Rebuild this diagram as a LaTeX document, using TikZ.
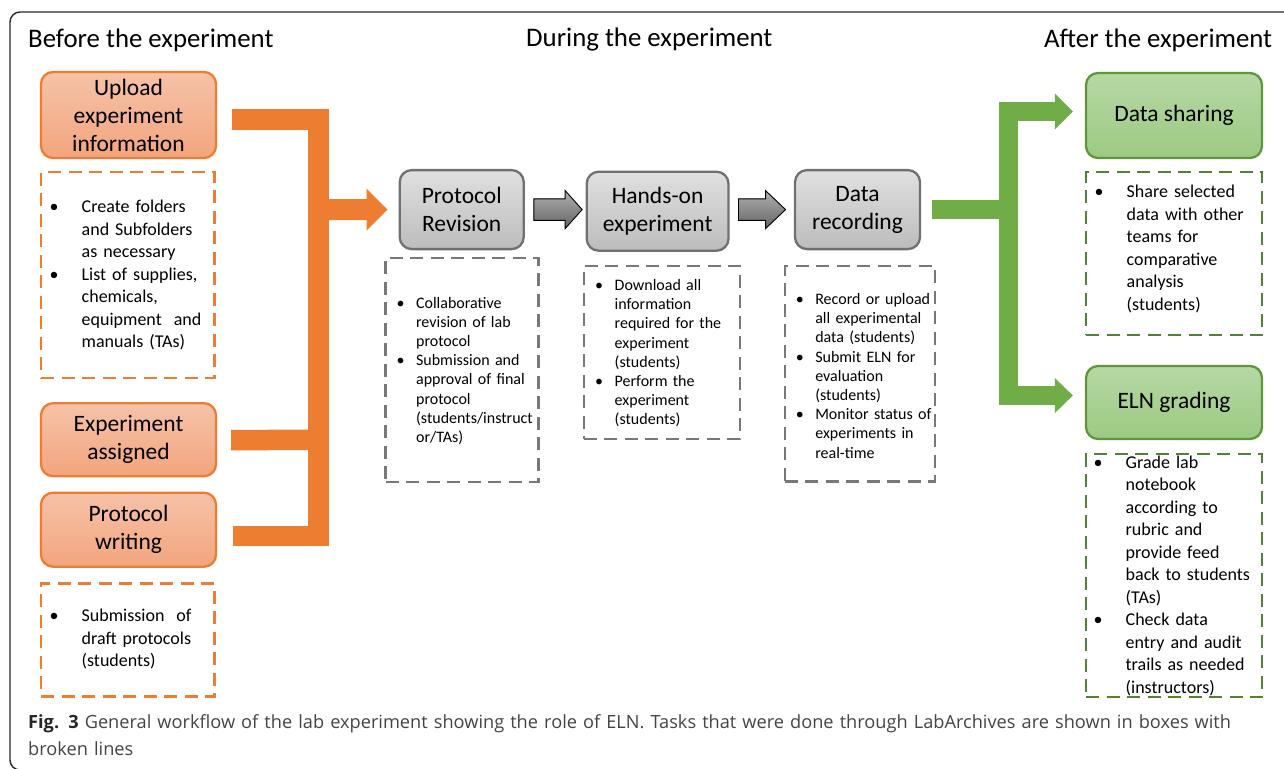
\documentclass[tikz,border=0pt]{standalone}
\usepackage{fontspec}
\setmainfont{Carlito}
\newfontfamily\capfont{Open Sans}
\usetikzlibrary{calc}
\definecolor{orangeC}{RGB}{237,125,49}
\definecolor{orTop}{RGB}{246,194,168}
\definecolor{orBot}{RGB}{242,165,126}
\definecolor{grayB}{RGB}{112,112,112}
\definecolor{gTop}{RGB}{224,224,224}
\definecolor{gBot}{RGB}{188,188,188}
\definecolor{grayD}{RGB}{120,120,120}
\definecolor{greenC}{RGB}{112,173,71}
\definecolor{grnB}{RGB}{96,150,58}
\definecolor{grnTop}{RGB}{182,216,164}
\definecolor{grnBot}{RGB}{156,202,130}
\definecolor{grnD}{RGB}{84,130,53}
\definecolor{aTop}{RGB}{175,175,175}
\definecolor{aBot}{RGB}{100,100,100}
\definecolor{capgray}{RGB}{68,68,68}
\definecolor{frameC}{RGB}{40,40,40}
\newlength\bw
\newcommand\Bul{\makebox[\bw][l]{\textbullet}}
\newcommand\Ind{\hspace*{\bw}}
\begin{document}
\begin{tikzpicture}[x=1pt,y=-1pt,
  obox/.style={draw=orangeC, line width=2.3pt, rounded corners=12pt, top color=orTop, bottom color=orBot, inner sep=0pt, align=center, font=\fontsize{23.5}{28}\selectfont},
  gbox/.style={draw=grayB, line width=2.3pt, rounded corners=12pt, top color=gTop, bottom color=gBot, inner sep=0pt, align=center, font=\fontsize{23.5}{28}\selectfont},
  nbox/.style={draw=grnB, line width=2.3pt, rounded corners=12pt, top color=grnTop, bottom color=grnBot, inner sep=0pt, align=center, font=\fontsize{23.5}{28}\selectfont},
  odash/.style={draw=orangeC, line width=2.5pt, dash pattern=on 13pt off 7.5pt, inner sep=0pt},
  gdash/.style={draw=grayD, line width=2.5pt, dash pattern=on 13pt off 7.5pt, inner sep=0pt},
  ndash/.style={draw=grnD, line width=2.5pt, dash pattern=on 13pt off 7.5pt, inner sep=0pt},
  ltext/.style={anchor=base west, inner sep=0pt, text width=220pt, align=left, font=\fontsize{18}{22.5}\selectfont\setlength\bw{32pt}},
  mtext/.style={anchor=base west, inner sep=0pt, text width=200pt, align=left, font=\fontsize{16}{19.2}\selectfont\setlength\bw{19.5pt}},
  head/.style={anchor=base west, inner sep=0pt, font=\fontsize{26.8}{32}\selectfont},
  obar/.style={draw=orangeC, line width=20.5pt, line join=miter},
  nbar/.style={draw=greenC, line width=19pt, line join=miter},
  garrow/.style={draw=black, line width=0.9pt, top color=aTop, bottom color=aBot},
]
\useasboundingbox (0,0) rectangle (1284,768);
% frame
\draw[line width=1.4pt, frameC, rounded corners=10pt] (1295,12) -- (10,12) -- (10,770) -- (1295,770);
% headers
\node[head] (hb) at (28,47.7) {Before the experiment};
\node[head] (hd) at (526,46.7) {During the experiment};
\node[head] (ha) at (1044,47.5) {After the experiment};
% before
\node[obox, minimum width=175pt, minimum height=86pt] (up) at (128.5,115) {Upload\\experiment\\information};
\node[odash, minimum width=173.5pt, minimum height=206pt] (d1) at (127.8,275) {};
\node[ltext] (t1) at (49.5,212.5) {\Bul Create folders\\\Ind and Subfolders\\\Ind as necessary\\\Bul List of supplies,\\\Ind chemicals,\\\Ind equipment~ and\\\Ind manuals (TAs)};
\node[obox, minimum width=175pt, minimum height=73pt] (ea) at (128.5,439.7) {Experiment\\assigned};
\node[obox, minimum width=175pt, minimum height=74pt] (pw) at (128.5,529.7) {Protocol\\writing};
\node[odash, minimum width=173.5pt, minimum height=113.4pt] (d2) at (127.8,640) {};
\node[ltext] (t2) at (49.5,621.5) {\Bul Submission~ of\\\Ind draft protocols\\\Ind (students)};
% during
\node[gbox, minimum width=124pt, minimum height=79pt] (pr) at (461.7,209.6) {Protocol\\Revision};
\node[gbox, minimum width=141.8pt, minimum height=79pt] (ho) at (657.6,211.2) {Hands-on\\experiment};
\node[gbox, minimum width=125pt, minimum height=79pt] (dr) at (857.5,209.6) {Data\\recording};
\node[gdash, minimum width=153pt, minimum height=223.7pt] (pd) at (462,369.9) {};
\node[mtext] (tp) at (396.4,308) {\Bul Collaborative\\\Ind revision of lab\\\Ind protocol\\\Bul Submission and\\\Ind approval of final\\\Ind protocol\\\Ind (students/instruct\\\Ind or/TAs)};
\node[gdash, minimum width=156.3pt, minimum height=173pt] (hdsh) at (661.9,352.5) {};
\node[mtext] (th) at (595,290.5) {\Bul Download all\\\Ind information\\\Ind required for the\\\Ind experiment\\\Ind (students)\\\Bul Perform the\\\Ind experiment\\\Ind (students)};
\node[gdash, minimum width=150pt, minimum height=215.7pt] (dd) at (859.8,373.8) {};
\node[mtext] (tdr) at (795.6,304.5) {\Bul Record or upload\\\Ind all experimental\\\Ind data (students)\\\Bul Submit ELN for\\\Ind evaluation\\\Ind (students)\\\Bul Monitor status of\\\Ind experiments in\\\Ind real-time};
% after
\node[nbox, minimum width=176pt, minimum height=85pt] (ds) at (1174,115.5) {Data sharing};
\node[ndash, minimum width=176pt, minimum height=163pt] (nd1) at (1174,253.5) {};
\node[ltext] (tg1) at (1094.5,197.5) {\Bul Share selected\\\Ind data with other\\\Ind teams for\\\Ind comparative\\\Ind analysis\\\Ind (students)};
\node[nbox, minimum width=176pt, minimum height=73pt] (eln) at (1174,402.5) {ELN grading};
\node[ndash, minimum width=176pt, minimum height=243pt] (nd2) at (1174,575.5) {};
\node[ltext] (tg2) at (1093.5,468) {\Bul Grade lab\\\Ind notebook\\\Ind according to\\\Ind rubric and\\\Ind provide feed\\\Ind back to students\\\Ind (TAs)\\\Bul Check data\\\Ind entry and audit\\\Ind trails as needed\\\Ind (instructors)};
% orange connector
\coordinate (ot) at ([shift={(15,4.5)}]up.east);
\coordinate (ob) at ([shift={(16,6.3)}]pw.east);
\coordinate (ov) at ([xshift=-80pt]pr.west);
\coordinate (otip) at ([xshift=-11pt]pr.west);
\draw[obar] (ot) -| (ov |- ob) -- (ob);
\draw[obar] ([shift={(14,0.5)}]ea.east) -- (ov |- ea.east);
\fill[orangeC] ($(ov)+(0,-10.5)$) -- ($(otip)+(-21,-10.5)$) -- ($(otip)+(-21,-21)$) -- (otip) -- ($(otip)+(-21,21)$) -- ($(otip)+(-21,10.5)$) -- ($(ov)+(0,10.5)$) -- cycle;
% gray arrows
\coordinate (a1s) at ([xshift=9pt]pr.east);
\coordinate (a1t) at ($(ho.west |- pr.east)+(-3.4,0)$);
\filldraw[garrow] ($(a1s)+(0,-10.8)$) -- ($(a1t)+(-17,-10.8)$) -- ($(a1t)+(-17,-19)$) -- (a1t) -- ($(a1t)+(-17,19)$) -- ($(a1t)+(-17,10.8)$) -- ($(a1s)+(0,10.8)$) -- cycle;
\coordinate (a2s) at ($(ho.east |- dr.west)+(8.8,0)$);
\coordinate (a2t) at ([xshift=-8.3pt]dr.west);
\filldraw[garrow] ($(a2s)+(0,-10.8)$) -- ($(a2t)+(-20,-10.8)$) -- ($(a2t)+(-20,-19)$) -- (a2t) -- ($(a2t)+(-20,19)$) -- ($(a2t)+(-20,10.8)$) -- ($(a2s)+(0,10.8)$) -- cycle;
% green connector
\coordinate (gt1) at ([shift={(-12,-4)}]ds.west);
\coordinate (gt2) at ([shift={(-12,-7)}]eln.west);
\coordinate (gv) at ([xshift=-55pt]gt2);
\draw[nbar] ([xshift=11pt]dr.east) -- (gv |- dr.east);
\draw[nbar] ([xshift=-18pt]gt1) -| ([xshift=-64pt]gt2) -- ([xshift=-18pt]gt2);
\fill[greenC] (gt1) -- ($(gt1)+(-18,-18)$) -- ($(gt1)+(-18,18)$) -- cycle;
\fill[greenC] (gt2) -- ($(gt2)+(-18,-17.5)$) -- ($(gt2)+(-18,17.5)$) -- cycle;
% caption
\node[anchor=base west, inner sep=0pt, text width=1260pt, align=left, text=capgray, font=\capfont\fontsize{18.2}{27}\selectfont] (cap) at (28,728) {{\color{black!85}\bfseries Fig. 3} General workflow of the lab experiment showing the role of ELN. Tasks that were done through LabArchives are shown in boxes with\\broken lines};
\end{tikzpicture}
\end{document}
